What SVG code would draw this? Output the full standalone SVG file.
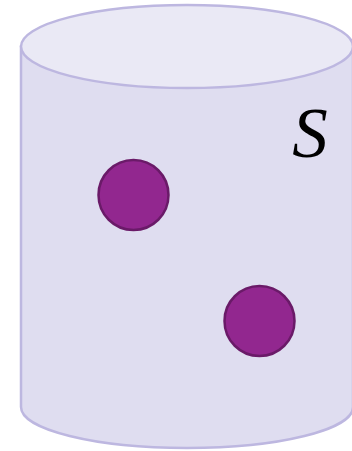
<svg xmlns="http://www.w3.org/2000/svg" width="352" height="451" viewBox="0 0 352 451">
<style>
.cyl{stroke:#bdb7e0;stroke-width:2.5}
.dot{fill:#92278f;stroke:#6a1a68;stroke-width:2.5}
.lbl{font-family:"Liberation Serif","DejaVu Serif",serif;font-style:italic;font-size:71px;fill:#000}
</style>
<rect width="352" height="451" fill="#ffffff"/>
<g id="cylinder">
<path class="cyl" fill="#dfddf0" d="M21,46.5 L21,407 A166,41 0 0 0 353,407 L353,46.5 Z"/>
<ellipse class="cyl" fill="#eae9f5" cx="187" cy="46.5" rx="166" ry="41.5"/>
<text class="lbl" x="310" y="157" text-anchor="middle">S</text>
</g>
<g id="point1"><circle class="dot" cx="133.5" cy="195" r="35"/></g>
<g id="point2"><circle class="dot" cx="259.5" cy="321" r="35"/></g>
<g id="connectors"></g>
</svg>
